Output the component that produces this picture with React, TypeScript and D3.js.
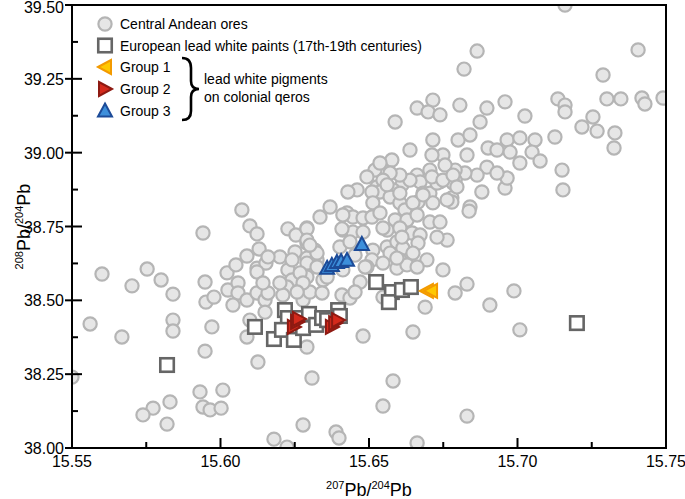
import React from "react";
import * as d3 from "d3";

const W = 685;
const H = 499;

const xMajorTicks = [15.55, 15.6, 15.65, 15.7, 15.75];
const xMinorTicks = [15.575, 15.625, 15.675, 15.725];
const yMajorTicks = [38.0, 38.25, 38.5, 38.75, 39.0, 39.25, 39.5];
const yMinorTicks = [38.125, 38.375, 38.625, 38.875, 39.125, 39.375];

const legendLabels = [
  "Central Andean ores",
  "European lead white paints (17th-19th centuries)",
  "Group 1",
  "Group 2",
  "Group 3",
];
const braceLabel = ["lead white pigments", "on colonial qeros"];

// Central Andean ores [207Pb/204Pb, 208Pb/204Pb]
const ores: [number, number][] = [
  [15.716, 39.5], [15.6864, 39.344], [15.682, 39.283], [15.7406, 39.348], [15.7288, 39.263],
  [15.6715, 39.178], [15.6662, 39.151], [15.6699, 39.138], [15.6739, 39.128], [15.6806, 39.161],
  [15.6897, 39.151], [15.6958, 39.172], [15.7025, 39.124], [15.7136, 39.182], [15.716, 39.161],
  [15.716, 39.138], [15.7301, 39.182], [15.7348, 39.182], [15.7419, 39.185], [15.7429, 39.165],
  [15.749, 39.185], [15.6874, 39.104], [15.6588, 39.104], [15.7254, 39.121], [15.7217, 39.087],
  [15.7268, 39.073], [15.7328, 39.067], [15.7325, 39.016], [15.7126, 39.053], [15.6715, 39.043],
  [15.6638, 39.009], [15.6577, 38.975], [15.68, 39.043], [15.684, 39.06], [15.6965, 39.043],
  [15.7008, 39.05], [15.7059, 39.043], [15.6901, 39.016], [15.6931, 39.009], [15.6975, 39.002],
  [15.7049, 39.002], [15.7008, 38.965], [15.7076, 38.972], [15.715, 38.941], [15.7153, 38.874],
  [15.688, 38.867], [15.6958, 38.88], [15.6965, 38.914], [15.6897, 38.951], [15.6931, 38.931],
  [15.6864, 38.924], [15.683, 38.992], [15.6823, 38.931], [15.679, 38.941], [15.679, 38.907],
  [15.6749, 38.992], [15.6756, 38.958], [15.6739, 38.901], [15.6712, 38.992], [15.6705, 38.941],
  [15.6662, 38.924], [15.6672, 38.901], [15.6611, 38.891], [15.6638, 38.907], [15.6604, 38.924],
  [15.6571, 38.931], [15.652, 38.941], [15.6537, 38.965], [15.6527, 38.884], [15.6547, 38.907],
  [15.6682, 38.863], [15.6705, 38.863], [15.6779, 38.847], [15.6493, 38.918], [15.6729, 38.897],
  [15.6783, 38.897], [15.6581, 38.874], [15.6537, 38.867], [15.651, 38.867], [15.646, 38.874],
  [15.6429, 38.867], [15.6369, 38.816], [15.6513, 38.83], [15.6571, 38.85], [15.6604, 38.83],
  [15.6665, 38.833], [15.6715, 38.83], [15.6779, 38.833], [15.684, 38.816], [15.6561, 38.891],
  [15.6712, 38.918], [15.6749, 38.907], [15.6783, 38.924], [15.6796, 38.884], [15.6604, 38.863],
  [15.6621, 38.806], [15.6648, 38.83], [15.6682, 38.857], [15.6763, 38.84], [15.6335, 38.782],
  [15.6426, 38.796], [15.6446, 38.782], [15.648, 38.779], [15.651, 38.782], [15.6537, 38.796],
  [15.6588, 38.772], [15.6628, 38.772], [15.6662, 38.789], [15.6705, 38.765], [15.6739, 38.765],
  [15.6763, 38.704], [15.6291, 38.745], [15.6412, 38.738], [15.6446, 38.731], [15.648, 38.731],
  [15.6561, 38.738], [15.6604, 38.745], [15.6645, 38.728], [15.6672, 38.721], [15.6729, 38.714],
  [15.6291, 38.694], [15.6318, 38.67], [15.6402, 38.681], [15.6436, 38.698], [15.6513, 38.67],
  [15.6561, 38.681], [15.6594, 38.698], [15.6614, 38.677], [15.6665, 38.694], [15.6291, 38.643],
  [15.6325, 38.637], [15.6453, 38.653], [15.651, 38.637], [15.6571, 38.66], [15.6604, 38.637],
  [15.6648, 38.66], [15.6695, 38.637], [15.6749, 38.603], [15.6493, 38.613], [15.6547, 38.626],
  [15.6594, 38.609], [15.6628, 38.62], [15.6662, 38.613], [15.6837, 38.802], [15.6611, 38.714],
  [15.6547, 38.745], [15.683, 38.555], [15.679, 38.525], [15.6689, 38.477], [15.6907, 38.484],
  [15.6988, 38.532], [15.7008, 38.4], [15.6648, 38.393], [15.6581, 38.227], [15.6547, 38.142],
  [15.683, 38.108], [15.6662, 38.017], [15.5601, 38.589], [15.5753, 38.606], [15.5702, 38.549],
  [15.58, 38.569], [15.584, 38.521], [15.5948, 38.562], [15.5951, 38.494], [15.5978, 38.511],
  [15.5561, 38.42], [15.5668, 38.376], [15.584, 38.433], [15.584, 38.396], [15.5971, 38.41],
  [15.55, 38.24], [15.5931, 38.19], [15.6008, 38.196], [15.583, 38.156], [15.5773, 38.135],
  [15.5739, 38.112], [15.5941, 38.139], [15.5965, 38.129], [15.6002, 38.135], [15.582, 38.081],
  [15.6126, 38.291], [15.6089, 38.376], [15.6308, 38.237], [15.6278, 38.078], [15.618, 38.03],
  [15.6224, 38.003], [15.6389, 38.054], [15.6399, 38.034], [15.648, 38.379], [15.6291, 38.342],
  [15.6022, 38.593], [15.6052, 38.62], [15.6089, 38.65], [15.6123, 38.609], [15.6153, 38.626],
  [15.62, 38.647], [15.6227, 38.603], [15.6241, 38.569], [15.6224, 38.545], [15.621, 38.518],
  [15.6278, 38.501], [15.6291, 38.626], [15.6325, 38.66], [15.6291, 38.579], [15.6301, 38.528],
  [15.6345, 38.569], [15.6342, 38.525], [15.6409, 38.518], [15.6436, 38.508], [15.647, 38.562],
  [15.6453, 38.528], [15.6487, 38.613], [15.6025, 38.535], [15.6059, 38.559], [15.6059, 38.525],
  [15.6042, 38.484], [15.6089, 38.501], [15.6123, 38.525], [15.615, 38.501], [15.615, 38.46],
  [15.616, 38.525], [15.6099, 38.433], [15.5941, 38.728], [15.6072, 38.806], [15.6099, 38.752],
  [15.6123, 38.725], [15.613, 38.674], [15.616, 38.647], [15.6123, 38.596], [15.6227, 38.742],
  [15.6254, 38.721], [15.6291, 38.742], [15.6291, 38.704], [15.6301, 38.687], [15.6251, 38.664],
  [15.6241, 38.637], [15.6409, 38.742], [15.6412, 38.789], [15.6325, 38.613], [15.6359, 38.579],
  [15.6143, 38.559], [15.6268, 38.593], [15.6278, 38.559], [15.6412, 38.603], [15.6547, 38.511],
  [15.6594, 38.643], [15.62, 38.559], [15.6258, 38.528], [15.5948, 38.328],
];

// European lead white paints (17th-19th centuries)
const europeanPaints: [number, number][] = [
  [15.582, 38.281], [15.6116, 38.41], [15.618, 38.369], [15.6217, 38.467], [15.6227, 38.44],
  [15.6207, 38.4], [15.6247, 38.366], [15.6261, 38.44], [15.6278, 38.406], [15.6298, 38.454],
  [15.6322, 38.417], [15.6342, 38.44], [15.6359, 38.433], [15.6396, 38.467], [15.6402, 38.447],
  [15.6524, 38.562], [15.6577, 38.528], [15.6567, 38.494], [15.6611, 38.535], [15.6641, 38.545],
  [15.72, 38.423],
];

// lead white pigments on colonial qeros
const group1: [number, number][] = [[15.6695, 38.532], [15.6709, 38.532]];
const group2: [number, number][] = [
  [15.6247, 38.41], [15.6258, 38.427], [15.6264, 38.437],
  [15.6375, 38.41], [15.6386, 38.423], [15.6396, 38.433],
];
const group3: [number, number][] = [
  [15.6359, 38.61], [15.6375, 38.62], [15.6392, 38.63], [15.6406, 38.633], [15.6426, 38.637],
  [15.6476, 38.691],
];

const FONT = "'Liberation Sans', Arial, Helvetica, sans-serif";

const circleStyle = { fill: "#e6e6e6", stroke: "#b5b5b5", strokeWidth: 2.2 };
const squareStyle = { fill: "#ffffff", stroke: "#666666", strokeWidth: 2.6 };
const g1Style = { fill: "#ffc800", stroke: "#f39a00", strokeWidth: 2 };
const g2Style = { fill: "#d42a1c", stroke: "#8e1a12", strokeWidth: 2 };
const g3Style = { fill: "#3d8fdb", stroke: "#1c4b98", strokeWidth: 2 };

const triLeft = "M-7,0 L6,-7 L6,7 Z";
const triRight = "M7,0 L-6,-7 L-6,7 Z";
const triUp = "M0,-7 L7,6 L-7,6 Z";

export default function App() {
  const left = 72, right = 666, top = 5, bottom = 448;
  const x = d3.scaleLinear().domain([15.55, 15.75]).range([left, right]);
  const y = d3.scaleLinear().domain([38.0, 39.5]).range([bottom, top]);
  const fmt = d3.format(".2f");
  const R = 6.6;
  const S = 13.5;

  const legendY = [24, 45.5, 67, 89, 110.5];
  const legX = 105;

  return (
    <div style={{ position: "absolute", left: 0, top: 0 }}>
      <svg width={W} height={H} style={{ display: "block", fontFamily: FONT }}>
        <defs>
          <clipPath id="plotclip">
            <rect x={left} y={top} width={right - left} height={bottom - top} />
          </clipPath>
        </defs>
        <rect x={0} y={0} width={W} height={H} fill="#ffffff" />

        <g clipPath="url(#plotclip)">
          {ores.map((d, i) => (
            <circle key={"o" + i} cx={x(d[0])} cy={y(d[1])} r={R} {...circleStyle} />
          ))}
          {europeanPaints.map((d, i) => (
            <rect key={"e" + i} x={x(d[0]) - S / 2} y={y(d[1]) - S / 2} width={S} height={S} {...squareStyle} />
          ))}
          {group3.map((d, i) => (
            <path key={"g3" + i} d={triUp} transform={`translate(${x(d[0])},${y(d[1])})`} {...g3Style} />
          ))}
          {group2.map((d, i) => (
            <path key={"g2" + i} d={triRight} transform={`translate(${x(d[0])},${y(d[1])})`} {...g2Style} />
          ))}
          {group1.map((d, i) => (
            <path key={"g1" + i} d={triLeft} transform={`translate(${x(d[0])},${y(d[1])})`} {...g1Style} />
          ))}
        </g>

        {/* frame */}
        <rect x={left} y={top} width={right - left} height={bottom - top} fill="none" stroke="#000" strokeWidth={2} />

        {/* y axis ticks */}
        {yMajorTicks.map((t) => (
          <g key={"ym" + t}>
            <line x1={left - 7} x2={left + 10} y1={y(t)} y2={y(t)} stroke="#000" strokeWidth={2} />
            <text x={left - 8} y={Math.max(y(t) + 6, 13)} textAnchor="end" fontSize={16} fill="#000">
              {fmt(t)}
            </text>
          </g>
        ))}
        {yMinorTicks.map((t) => (
          <line key={"yn" + t} x1={left} x2={left + 6} y1={y(t)} y2={y(t)} stroke="#000" strokeWidth={2} />
        ))}

        {/* x axis ticks */}
        {xMajorTicks.map((t) => (
          <g key={"xm" + t}>
            <line x1={x(t)} x2={x(t)} y1={bottom} y2={bottom - 10} stroke="#000" strokeWidth={2} />
            <text x={x(t)} y={bottom + 19} textAnchor="middle" fontSize={16} fill="#000">
              {fmt(t)}
            </text>
          </g>
        ))}
        {xMinorTicks.map((t) => (
          <line key={"xn" + t} x1={x(t)} x2={x(t)} y1={bottom} y2={bottom - 6} stroke="#000" strokeWidth={2} />
        ))}

        {/* axis titles */}
        <text x={(left + right) / 2} y={496} textAnchor="middle" fill="#000">
          <tspan fontSize={11} dy={-7}>207</tspan>
          <tspan fontSize={18} dy={7}>Pb/</tspan>
          <tspan fontSize={11} dy={-7}>204</tspan>
          <tspan fontSize={18} dy={7}>Pb</tspan>
        </text>
        <text transform={`translate(30,${(top + bottom) / 2}) rotate(-90)`} textAnchor="middle" fill="#000">
          <tspan fontSize={11} dy={-7}>208</tspan>
          <tspan fontSize={18} dy={7}>Pb/</tspan>
          <tspan fontSize={11} dy={-7}>204</tspan>
          <tspan fontSize={18} dy={7}>Pb</tspan>
        </text>

        {/* legend */}
        <circle cx={legX} cy={legendY[0]} r={R} {...circleStyle} />
        <rect x={legX - S / 2} y={legendY[1] - S / 2} width={S} height={S} {...squareStyle} />
        <path d={triLeft} transform={`translate(${legX},${legendY[2]})`} {...g1Style} />
        <path d={triRight} transform={`translate(${legX},${legendY[3]})`} {...g2Style} />
        <path d={triUp} transform={`translate(${legX},${legendY[4]})`} {...g3Style} />
        {legendLabels.map((l, i) => (
          <text key={l} x={120} y={legendY[i] + 5} fontSize={14} fill="#000">
            {l}
          </text>
        ))}
        <path
          d="M182,58 C189,58 191,62 191,68 L191,81 C191,86 193,89 199,89 C193,89 191,92 191,97 L191,111 C191,116 189,120 182,120"
          fill="none"
          stroke="#000"
          strokeWidth={2.6}
        />
        <text x={204} y={84} fontSize={14} fill="#000">{braceLabel[0]}</text>
        <text x={204} y={102} fontSize={14} fill="#000">{braceLabel[1]}</text>
      </svg>
    </div>
  );
}
